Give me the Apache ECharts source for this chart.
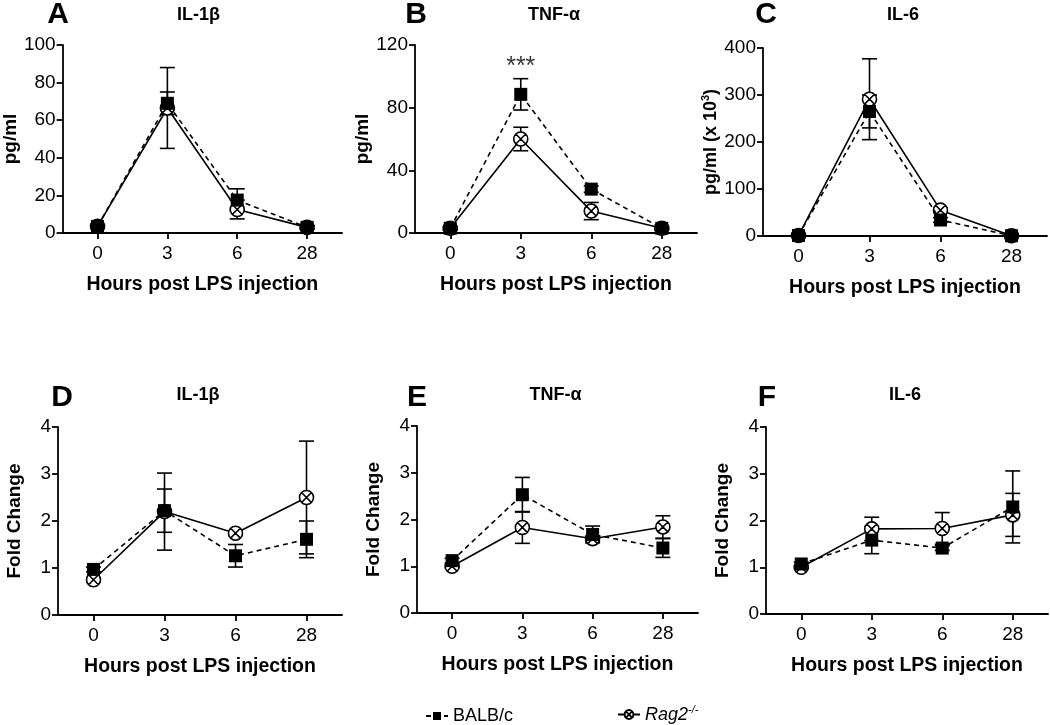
<!DOCTYPE html>
<html>
<head>
<meta charset="utf-8">
<script src="https://cdn.jsdelivr.net/npm/echarts@6/dist/echarts.min.js"></script>
<style>html,body{margin:0;padding:0;background:#fff}#c{width:1050px;height:725px}</style>
</head>
<body>
<div id="c"></div>
<script>
// ---- data ----
const categories = ['0', '3', '6', '28'];

const A_balb = [3.5, 69, 17.5, 3];
const A_balbErr = [1, 6, 6, 0.8];
const A_rag = [3.5, 66.5, 12.5, 3];
const A_ragErr = [1, 21.5, 5, 0.8];

const B_balb = [3, 88.5, 28, 3];
const B_balbErr = [1, 10, 2, 0.8];
const B_rag = [3, 60, 14, 3];
const B_ragErr = [1, 7.5, 5.5, 0.8];

const C_balb = [1, 265, 34, 0.5];
const C_balbErr = [0, 35, 5, 0];
const C_rag = [1, 291, 55, 0.5];
const C_ragErr = [0, 86, 5, 0];

const D_balb = [0.97, 2.22, 1.26, 1.61];
const D_balbErr = [0.05, 0.46, 0.24, 0.39];
const D_rag = [0.75, 2.2, 1.74, 2.5];
const D_ragErr = [0.04, 0.82, 0.05, 1.2];

const E_balb = [1.12, 2.53, 1.68, 1.39];
const E_balbErr = [0.05, 0.37, 0.18, 0.2];
const E_rag = [1.0, 1.83, 1.59, 1.84];
const E_ragErr = [0.03, 0.34, 0.05, 0.24];

const F_balb = [1.07, 1.58, 1.41, 2.29];
const F_balbErr = [0.04, 0.29, 0.05, 0.77];
const F_rag = [1.0, 1.82, 1.83, 2.12];
const F_ragErr = [0.03, 0.25, 0.34, 0.46];

const yMax = [100, 120, 400, 4, 4, 4];
const yInterval = [20, 40, 100, 1, 1, 1];
const panelLetters = ['A', 'B', 'C', 'D', 'E', 'F'];
const panelTitles = ['IL-1β', 'TNF-α', 'IL-6', 'IL-1β', 'TNF-α', 'IL-6'];
const yNames = ['pg/ml', 'pg/ml', '{n|pg/ml (x 10}{s|3}{n|)}', 'Fold Change', 'Fold Change', 'Fold Change'];
const xName = 'Hours post LPS injection';
const sigLabel = '***';
const sigPoint = [1, 106];   // panel B, 3 h

// ---- layout ----
const FONT = 'Liberation Sans, Arial, Helvetica, sans-serif';
const grids = [
  {left: 59, top: 45, width: 283, height: 188},
  {left: 415, top: 45, width: 282, height: 188},
  {left: 763, top: 48, width: 284, height: 188},
  {left: 58, top: 427, width: 284, height: 188},
  {left: 417, top: 426, width: 281, height: 187},
  {left: 766, top: 427, width: 282, height: 187}
];
const nameGaps = [34, 34, 30, 34, 34, 34];
const letterPos = [[58, 15], [416, 15], [766, 15], [62, 398], [417, 398], [767, 398]];

const panels = [
  [A_balb, A_balbErr, A_rag, A_ragErr],
  [B_balb, B_balbErr, B_rag, B_ragErr],
  [C_balb, C_balbErr, C_rag, C_ragErr],
  [D_balb, D_balbErr, D_rag, D_ragErr],
  [E_balb, E_balbErr, E_rag, E_ragErr],
  [F_balb, F_balbErr, F_rag, F_ragErr]
];

const crossCircle = 'path://M10,0 A10,10 0 1,1 10,20 A10,10 0 1,1 10,0 Z M2.93,2.93 L17.07,17.07 M17.07,2.93 L2.93,17.07';

function errData(vals, errs) {
  return vals.map((v, i) => [i, v - errs[i], v + errs[i]]);
}
function errRender(params, api) {
  const x = api.value(0);
  const lo = api.coord([x, api.value(1)]);
  const hi = api.coord([x, api.value(2)]);
  const hw = 7.5;
  const st = {stroke: '#000', lineWidth: 1.6};
  return {
    type: 'group',
    children: [
      {type: 'line', shape: {x1: lo[0], y1: lo[1], x2: hi[0], y2: hi[1]}, style: st},
      {type: 'line', shape: {x1: lo[0] - hw, y1: lo[1], x2: lo[0] + hw, y2: lo[1]}, style: st},
      {type: 'line', shape: {x1: hi[0] - hw, y1: hi[1], x2: hi[0] + hw, y2: hi[1]}, style: st}
    ]
  };
}

const axisLineStyle = {color: '#000', width: 1.8};
const xAxes = [], yAxes = [], series = [], graphics = [];

grids.forEach((g, i) => {
  xAxes.push({
    gridIndex: i, type: 'category', data: categories, boundaryGap: true,
    axisLine: {show: true, lineStyle: axisLineStyle},
    axisTick: {show: true, alignWithLabel: true, length: 6, lineStyle: axisLineStyle},
    axisLabel: {color: '#000', fontSize: 19, fontFamily: FONT, margin: 11},
    splitLine: {show: false},
    name: xName, nameLocation: 'middle', nameGap: 42,
    nameTextStyle: {color: '#000', fontSize: 19.5, fontWeight: 'bold', fontFamily: FONT}
  });
  yAxes.push({
    gridIndex: i, type: 'value', min: 0, max: yMax[i], interval: yInterval[i],
    axisLine: {show: true, lineStyle: axisLineStyle},
    axisTick: {show: true, length: 6, lineStyle: axisLineStyle},
    axisLabel: {color: '#000', fontSize: 19, fontFamily: FONT, margin: 7},
    splitLine: {show: false},
    name: yNames[i], nameLocation: 'middle', nameGap: nameGaps[i],
    nameTextStyle: {
      color: '#000', fontSize: 19, fontWeight: 'bold', fontFamily: FONT,
      rich: {
        n: {color: '#000', fontSize: 18, fontWeight: 'bold', fontFamily: FONT},
        s: {color: '#000', fontSize: 11, fontWeight: 'bold', fontFamily: FONT, padding: [0, 0, 10, 0]}
      }
    }
  });
  const [bv, be, rv, re] = panels[i];
  series.push({
    type: 'custom', xAxisIndex: i, yAxisIndex: i, renderItem: errRender,
    data: errData(rv, re), encode: {x: 0, y: [1, 2]}, z: 2, silent: true
  });
  series.push({
    type: 'custom', xAxisIndex: i, yAxisIndex: i, renderItem: errRender,
    data: errData(bv, be), encode: {x: 0, y: [1, 2]}, z: 2, silent: true
  });
  series.push({
    name: 'Rag2', type: 'line', xAxisIndex: i, yAxisIndex: i, data: rv,
    symbol: crossCircle, symbolSize: 14,
    itemStyle: {color: '#fff', borderColor: '#000', borderWidth: 1.6},
    lineStyle: {color: '#000', width: 1.6, type: 'solid'}, z: 3
  });
  series.push({
    name: 'BALB/c', type: 'line', xAxisIndex: i, yAxisIndex: i, data: bv,
    symbol: 'rect', symbolSize: 13,
    itemStyle: {color: '#000'},
    lineStyle: {color: '#000', width: 1.6, type: [5, 4]}, z: 4
  });
  graphics.push({
    type: 'text', x: letterPos[i][0], y: letterPos[i][1],
    style: {text: panelLetters[i], align: 'center', verticalAlign: 'middle', fill: '#000', font: 'bold 30px ' + FONT}
  });
  graphics.push({
    type: 'text', x: g.left + g.width / 2 - 2, y: (i < 3 ? 15 : 395),
    style: {text: panelTitles[i], align: 'center', verticalAlign: 'middle', fill: '#000', font: 'bold 18px ' + FONT}
  });
});

series.push({
  type: 'scatter', xAxisIndex: 1, yAxisIndex: 1, data: [sigPoint], symbolSize: 0,
  label: {show: true, formatter: sigLabel, position: 'inside', color: '#000', fontSize: 25, fontFamily: FONT},
  silent: true, z: 5
});

const option = {
  animation: false,
  backgroundColor: '#fff',
  grid: grids,
  xAxis: xAxes,
  yAxis: yAxes,
  series: series,
  graphic: graphics,
  legend: [
    {data: ['BALB/c'], left: 420, top: 702, itemWidth: 22, itemHeight: 10,
     textStyle: {color: '#000', fontSize: 18, fontFamily: FONT}},
    {data: ['Rag2'], left: 612, top: 699, itemWidth: 22, itemHeight: 11,
     formatter: () => '{it|Rag2}{sup|-/-}',
     textStyle: {color: '#000', fontSize: 18, fontFamily: FONT,
       rich: {it: {fontStyle: 'italic', fontSize: 18, fontFamily: FONT, color: '#000'},
              sup: {fontStyle: 'italic', fontSize: 11, fontFamily: FONT, color: '#000', padding: [0, 0, 10, 0]}}}}
  ]
};
const chart = echarts.init(document.getElementById('c'), null, {renderer: 'canvas'});
chart.setOption(option);
</script>
</body>
</html>
